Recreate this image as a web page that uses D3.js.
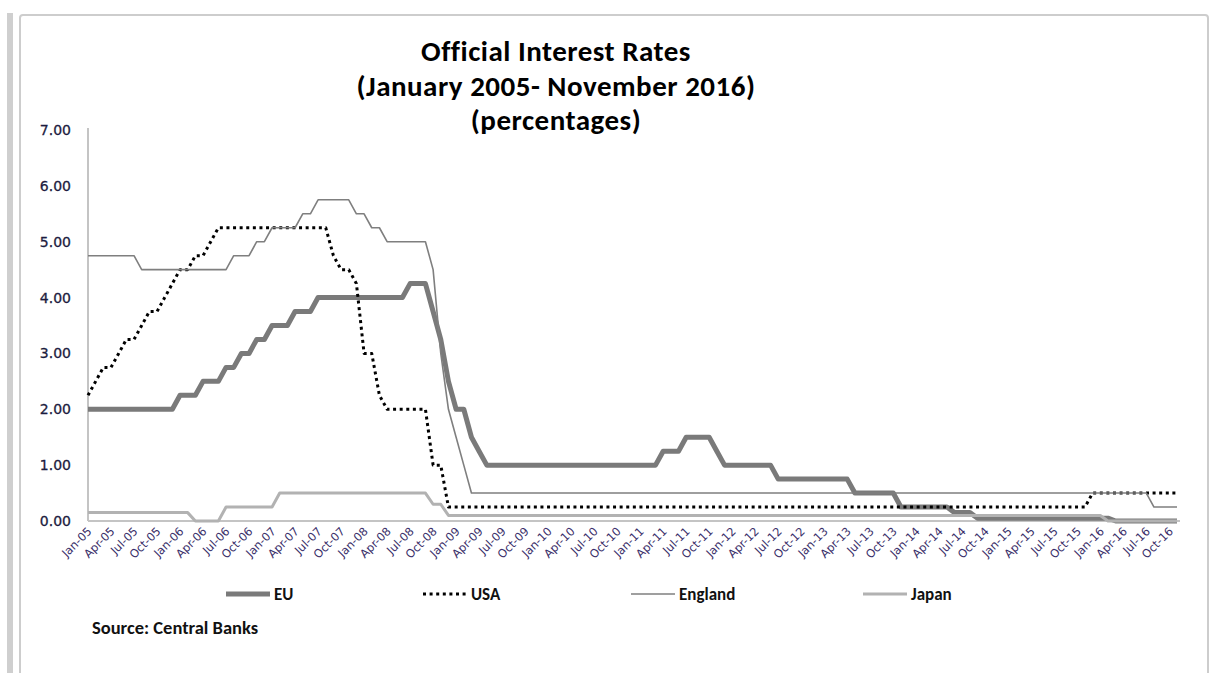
<!DOCTYPE html>
<html>
<head>
<meta charset="utf-8">
<script src="https://cdn.jsdelivr.net/npm/d3@7"></script>
<style>
  body { margin: 0; background: #fff; }
  svg { display: block; }
</style>
</head>
<body>
<div id="chart"></div>
<script>
// monthly categories, Jan 2005 .. Nov 2016
const months = d3.timeMonth.range(new Date(2005, 0, 1), new Date(2016, 11, 1));

const tickLabels = ["Jan-05","Apr-05","Jul-05","Oct-05","Jan-06","Apr-06","Jul-06","Oct-06",
  "Jan-07","Apr-07","Jul-07","Oct-07","Jan-08","Apr-08","Jul-08","Oct-08",
  "Jan-09","Apr-09","Jul-09","Oct-09","Jan-10","Apr-10","Jul-10","Oct-10",
  "Jan-11","Apr-11","Jul-11","Oct-11","Jan-12","Apr-12","Jul-12","Oct-12",
  "Jan-13","Apr-13","Jul-13","Oct-13","Jan-14","Apr-14","Jul-14","Oct-14",
  "Jan-15","Apr-15","Jul-15","Oct-15","Jan-16","Apr-16","Jul-16","Oct-16"];

const yTicks = [0, 1, 2, 3, 4, 5, 6, 7];

// rates per month (percent)
const euRates = [
  2.00,2.00,2.00,2.00,2.00,2.00,2.00,2.00,2.00,2.00,2.00,2.00,   // 2005
  2.25,2.25,2.25,2.50,2.50,2.50,2.75,2.75,3.00,3.00,3.25,3.25,   // 2006
  3.50,3.50,3.50,3.75,3.75,3.75,4.00,4.00,4.00,4.00,4.00,4.00,   // 2007
  4.00,4.00,4.00,4.00,4.00,4.00,4.25,4.25,4.25,3.75,3.25,2.50,   // 2008
  2.00,2.00,1.50,1.25,1.00,1.00,1.00,1.00,1.00,1.00,1.00,1.00,   // 2009
  1.00,1.00,1.00,1.00,1.00,1.00,1.00,1.00,1.00,1.00,1.00,1.00,   // 2010
  1.00,1.00,1.00,1.25,1.25,1.25,1.50,1.50,1.50,1.50,1.25,1.00,   // 2011
  1.00,1.00,1.00,1.00,1.00,1.00,0.75,0.75,0.75,0.75,0.75,0.75,   // 2012
  0.75,0.75,0.75,0.75,0.50,0.50,0.50,0.50,0.50,0.50,0.25,0.25,   // 2013
  0.25,0.25,0.25,0.25,0.25,0.15,0.15,0.15,0.05,0.05,0.05,0.05,   // 2014
  0.05,0.05,0.05,0.05,0.05,0.05,0.05,0.05,0.05,0.05,0.05,0.05,   // 2015
  0.05,0.05,0.00,0.00,0.00,0.00,0.00,0.00,0.00,0.00,0.00         // 2016
];
const usaRates = [
  2.25,2.50,2.75,2.75,3.00,3.25,3.25,3.50,3.75,3.75,4.00,4.25,
  4.50,4.50,4.75,4.75,5.00,5.25,5.25,5.25,5.25,5.25,5.25,5.25,
  5.25,5.25,5.25,5.25,5.25,5.25,5.25,5.25,4.75,4.50,4.50,4.25,
  3.00,3.00,2.25,2.00,2.00,2.00,2.00,2.00,2.00,1.00,1.00,0.25,
  0.25,0.25,0.25,0.25,0.25,0.25,0.25,0.25,0.25,0.25,0.25,0.25,
  0.25,0.25,0.25,0.25,0.25,0.25,0.25,0.25,0.25,0.25,0.25,0.25,
  0.25,0.25,0.25,0.25,0.25,0.25,0.25,0.25,0.25,0.25,0.25,0.25,
  0.25,0.25,0.25,0.25,0.25,0.25,0.25,0.25,0.25,0.25,0.25,0.25,
  0.25,0.25,0.25,0.25,0.25,0.25,0.25,0.25,0.25,0.25,0.25,0.25,
  0.25,0.25,0.25,0.25,0.25,0.25,0.25,0.25,0.25,0.25,0.25,0.25,
  0.25,0.25,0.25,0.25,0.25,0.25,0.25,0.25,0.25,0.25,0.25,0.50,
  0.50,0.50,0.50,0.50,0.50,0.50,0.50,0.50,0.50,0.50,0.50
];
const englandRates = [
  4.75,4.75,4.75,4.75,4.75,4.75,4.75,4.50,4.50,4.50,4.50,4.50,
  4.50,4.50,4.50,4.50,4.50,4.50,4.50,4.75,4.75,4.75,5.00,5.00,
  5.25,5.25,5.25,5.25,5.50,5.50,5.75,5.75,5.75,5.75,5.75,5.50,
  5.50,5.25,5.25,5.00,5.00,5.00,5.00,5.00,5.00,4.50,3.00,2.00,
  1.50,1.00,0.50,0.50,0.50,0.50,0.50,0.50,0.50,0.50,0.50,0.50,
  0.50,0.50,0.50,0.50,0.50,0.50,0.50,0.50,0.50,0.50,0.50,0.50,
  0.50,0.50,0.50,0.50,0.50,0.50,0.50,0.50,0.50,0.50,0.50,0.50,
  0.50,0.50,0.50,0.50,0.50,0.50,0.50,0.50,0.50,0.50,0.50,0.50,
  0.50,0.50,0.50,0.50,0.50,0.50,0.50,0.50,0.50,0.50,0.50,0.50,
  0.50,0.50,0.50,0.50,0.50,0.50,0.50,0.50,0.50,0.50,0.50,0.50,
  0.50,0.50,0.50,0.50,0.50,0.50,0.50,0.50,0.50,0.50,0.50,0.50,
  0.50,0.50,0.50,0.50,0.50,0.50,0.50,0.25,0.25,0.25,0.25
];
const japanRates = [
  0.15,0.15,0.15,0.15,0.15,0.15,0.15,0.15,0.15,0.15,0.15,0.15,
  0.15,0.15,0.00,0.00,0.00,0.00,0.25,0.25,0.25,0.25,0.25,0.25,
  0.25,0.50,0.50,0.50,0.50,0.50,0.50,0.50,0.50,0.50,0.50,0.50,
  0.50,0.50,0.50,0.50,0.50,0.50,0.50,0.50,0.50,0.30,0.30,0.10,
  0.10,0.10,0.10,0.10,0.10,0.10,0.10,0.10,0.10,0.10,0.10,0.10,
  0.10,0.10,0.10,0.10,0.10,0.10,0.10,0.10,0.10,0.10,0.10,0.10,
  0.10,0.10,0.10,0.10,0.10,0.10,0.10,0.10,0.10,0.10,0.10,0.10,
  0.10,0.10,0.10,0.10,0.10,0.10,0.10,0.10,0.10,0.10,0.10,0.10,
  0.10,0.10,0.10,0.10,0.10,0.10,0.10,0.10,0.10,0.10,0.10,0.10,
  0.10,0.10,0.10,0.10,0.10,0.10,0.10,0.10,0.10,0.10,0.10,0.10,
  0.10,0.10,0.10,0.10,0.10,0.10,0.10,0.10,0.10,0.10,0.10,0.10,
  0.10,0.00,0.00,0.00,0.00,0.00,0.00,0.00,0.00,0.00,0.00
];

const seriesNames = ["EU", "USA", "England", "Japan"];

function createRatesChart() {
    let w = 1217;
    let h = 673;
    let plot = {left: 88, right: 1177, top: 130, bottom: 521};
    let textFont = "Carlito, Lato, sans-serif";
    let axisFont = "'DejaVu Sans', Verdana, sans-serif";

    let svg = d3.select("#chart")
                .append("svg")
                .attr("width", w)
                .attr("height", h);

    // frame of the embedded chart
    svg.append("rect")
        .attr("x", 7).attr("y", 13)
        .attr("width", 6).attr("height", h)
        .attr("fill", "#cfcfcf");
    svg.append("rect")
        .attr("x", 20).attr("y", 15)
        .attr("width", 1188).attr("height", h + 20)
        .attr("rx", 3)
        .attr("fill", "none")
        .attr("stroke", "#cdcdcd")
        .attr("stroke-width", 2);

    // title, three lines
    let titleLines = ["Official Interest Rates", "(January 2005- November 2016)", "(percentages)"];
    svg.append("g")
        .selectAll("text")
        .data(titleLines)
        .enter()
        .append("text")
        .attr("x", 556)
        .attr("y", (d, i) => [61, 96, 130][i])
        .attr("text-anchor", "middle")
        .style("font-family", textFont)
        .style("font-weight", "bold")
        .style("font-size", "29px")
        .style("letter-spacing", "0.5px")
        .style("fill", "#000")
        .text(d => d);

    let keys = months.map(d => +d);
    let x = d3.scalePoint()
                .domain(keys)
                .range([plot.left, plot.right]);
    let y = d3.scaleLinear()
                .domain([0, 7])
                .range([plot.bottom, plot.top]);

    // y axis
    let yAxis = svg.append("g")
        .attr("transform", `translate(${plot.left},0)`)
        .call(d3.axisLeft(y).tickValues(yTicks).tickFormat(d3.format(".2f")).tickSize(0).tickPadding(17));
    yAxis.select(".domain")
        .attr("d", `M0,${plot.top - 2}V${plot.bottom}`)
        .attr("stroke", "#c4c4c4")
        .attr("stroke-width", 2);
    yAxis.selectAll("text")
        .style("font-family", axisFont)
        .style("font-size", "14px")
        .style("fill", "#1c1c40")
        .style("stroke", "#1c1c40")
        .style("stroke-width", 0.3);

    // x axis, label every third month
    let tickKeys = keys.filter((d, i) => i % 3 === 0);
    let xAxis = svg.append("g")
        .attr("transform", `translate(0,${plot.bottom})`)
        .call(d3.axisBottom(x).tickValues(tickKeys).tickFormat((d, i) => tickLabels[i]).tickSize(0));
    xAxis.select(".domain")
        .attr("d", `M${plot.left},0H${plot.right + 3}`)
        .attr("stroke", "#c4c4c4")
        .attr("stroke-width", 2);
    xAxis.selectAll("text")
        .attr("text-anchor", "end")
        .attr("dy", null)
        .attr("y", 0)
        .attr("transform", "translate(4,11) rotate(-45)")
        .style("font-family", axisFont)
        .style("font-size", "11.5px")
        .style("fill", "#3a2f6a");

    // series
    let series = [
        {name: "EU", values: euRates, color: "#7a7a7a", width: 5, dash: null},
        {name: "USA", values: usaRates, color: "#000000", width: 3, dash: "3,3.6"},
        {name: "England", values: englandRates, color: "#7f7f7f", width: 1.6, dash: null},
        {name: "Japan", values: japanRates, color: "#b2b2b2", width: 3, dash: null}
    ];
    let line = d3.line()
        .x((d, i) => x(keys[i]))
        .y(d => y(d));

    svg.append("g")
        .selectAll("path")
        .data(series)
        .enter()
        .append("path")
        .attr("d", d => line(d.values))
        .attr("fill", "none")
        .attr("stroke", d => d.color)
        .attr("stroke-width", d => d.width)
        .attr("stroke-dasharray", d => d.dash)
        .attr("stroke-linejoin", "round");

    // legend
    let legendX = [226, 423, 631, 863];
    let legendY = 594;
    let legend = svg.append("g")
        .selectAll("g")
        .data(series)
        .enter()
        .append("g")
        .attr("transform", (d, i) => `translate(${legendX[i]},${legendY})`);
    legend.append("line")
        .attr("x1", 0).attr("x2", 44)
        .attr("y1", 0).attr("y2", 0)
        .attr("stroke", d => d.color)
        .attr("stroke-width", d => d.width)
        .attr("stroke-dasharray", d => d.dash);
    legend.append("text")
        .attr("x", 48)
        .attr("y", 6)
        .style("font-family", textFont)
        .style("font-weight", "bold")
        .style("font-size", "17px")
        .style("fill", "#111")
        .text((d, i) => seriesNames[i]);

    svg.append("text")
        .attr("x", 92)
        .attr("y", 634)
        .style("font-family", textFont)
        .style("font-weight", "bold")
        .style("font-size", "18.5px")
        .style("fill", "#111")
        .text("Source: Central Banks");
}

createRatesChart();
</script>
</body>
</html>
